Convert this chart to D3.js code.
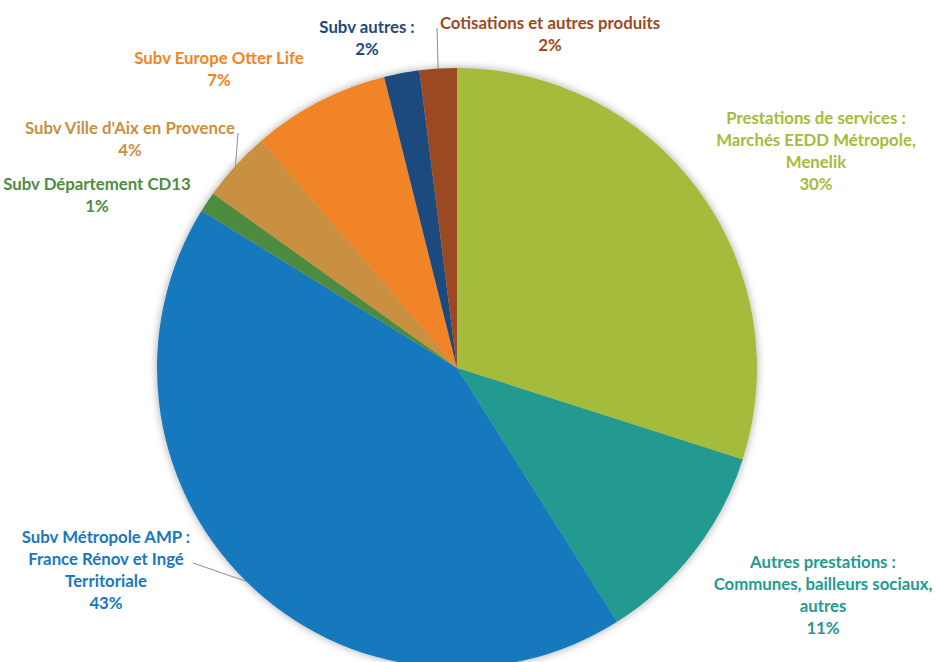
<!DOCTYPE html>
<html>
<head>
<meta charset="utf-8">
<script src="https://cdn.jsdelivr.net/npm/d3@7"></script>
<style>
  html, body { margin: 0; padding: 0; background: #fff; }
  svg { display: block; }
  text { font-family: Lato, "Open Sans", sans-serif; font-weight: 700; font-size: 16.8px; }
</style>
</head>
<body>
<svg id="chart" width="936" height="662"></svg>
<script>
// Data (clockwise from 12 o'clock)
var categories = [
  "Prestations de services : Marchés EEDD Métropole, Menelik",
  "Autres prestations : Communes, bailleurs sociaux, autres",
  "Subv Métropole AMP : France Rénov et Ingé Territoriale",
  "Subv Département CD13",
  "Subv Ville d'Aix en Provence",
  "Subv Europe Otter Life",
  "Subv autres :",
  "Cotisations et autres produits"
]
var values = [29.9, 11.1, 42.7, 1.1, 3.8, 7.4, 1.9, 2.0]
var labelLines = [
  ["Prestations de services :", "Marchés EEDD Métropole,", "Menelik"],
  ["Autres prestations :", "Communes, bailleurs sociaux,", "autres"],
  ["Subv Métropole AMP :", "France Rénov et Ingé", "Territoriale"],
  ["Subv Département CD13"],
  ["Subv Ville d'Aix en Provence"],
  ["Subv Europe Otter Life"],
  ["Subv autres :"],
  ["Cotisations et autres produits"]
]
var colors = ["#a5bb3b", "#229a8f", "#1878bd", "#4e8c40", "#c8903f", "#f18426", "#1d4a7e", "#9b4a22"]

// Layout of the labels: centre x, first line centre y, optional leader end
var labelLayout = [
  {x: 816, y: 118},
  {x: 823, y: 562},
  {x: 106, y: 537, lead: [193, 563]},
  {x: 97,  y: 184},
  {x: 130, y: 128, lead: [238, 133]},
  {x: 219, y: 58},
  {x: 367, y: 27},
  {x: 550, y: 23,  lead: [437, 28]}
]

var cx = 457, cy = 368, radius = 300, lineH = 22

var svg = d3.select("#chart")

var defs = svg.append("defs")
var f = defs.append("filter").attr("id", "shadow")
  .attr("x", "-10%").attr("y", "-10%").attr("width", "120%").attr("height", "120%")
f.append("feDropShadow")
  .attr("dx", 0).attr("dy", 0).attr("stdDeviation", 4)
  .attr("flood-color", "#000").attr("flood-opacity", 0.35)

var data = categories.map(function(c, i) { return {name: c, value: values[i], i: i} })

var pie = d3.pie().sort(null).value(function(d) { return d.value })
var arcs = pie(data)
var total = d3.sum(values)

var arc = d3.arc().innerRadius(0).outerRadius(radius)
var edge = d3.arc().innerRadius(radius).outerRadius(radius)

var g = svg.append("g").attr("transform", "translate(" + cx + "," + cy + ")")

g.append("g").attr("filter", "url(#shadow)")
  .selectAll("path")
  .data(arcs)
  .join("path")
  .attr("d", arc)
  .attr("fill", function(d) { return colors[d.data.i] })

// leader lines
svg.append("g")
  .selectAll("line")
  .data(arcs.filter(function(d) { return labelLayout[d.data.i].lead }))
  .join("line")
  .attr("x1", function(d) { return labelLayout[d.data.i].lead[0] })
  .attr("y1", function(d) { return labelLayout[d.data.i].lead[1] })
  .attr("x2", function(d) { return cx + edge.centroid(d)[0] })
  .attr("y2", function(d) { return cy + edge.centroid(d)[1] })
  .attr("stroke", "#8c8c8c")
  .attr("stroke-width", 1)

// labels
var labels = svg.append("g")
  .selectAll("text")
  .data(arcs)
  .join("text")
  .attr("text-anchor", "middle")
  .attr("fill", function(d) { return colors[d.data.i] })
  .attr("x", function(d) { return labelLayout[d.data.i].x })
  .attr("y", function(d) { return labelLayout[d.data.i].y })

labels.each(function(d) {
  var t = d3.select(this)
  var lay = labelLayout[d.data.i]
  var lines = labelLines[d.data.i].concat([Math.round(d.data.value / total * 100) + "%"])
  lines.forEach(function(l, k) {
    t.append("tspan")
      .attr("x", lay.x)
      .attr("y", lay.y + k * lineH)
      .attr("dy", "0.35em")
      .text(l)
  })
})
</script>
</body>
</html>
